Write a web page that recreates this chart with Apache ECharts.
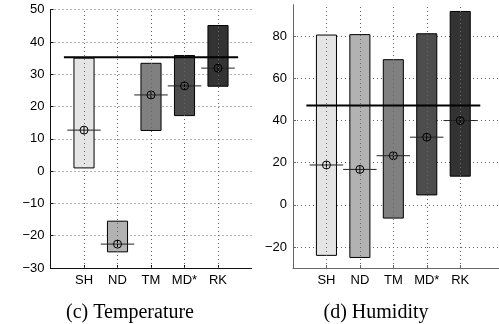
<!DOCTYPE html>
<html>
<head>
<meta charset="utf-8">
<script src="https://cdn.jsdelivr.net/npm/echarts@6/dist/echarts.min.js"></script>
<style>
  html, body {margin: 0; padding: 0; background: #fff;}
  #main {width: 499px; height: 324px;}
</style>
</head>
<body>
<div id="main"></div>
<script>
const categories = ['SH', 'ND', 'TM', 'MD*', 'RK'];
const catPos = [1, 2, 3, 4, 5];
const barColors = ['#e5e5e5', '#b2b2b2', '#808080', '#4d4d4d', '#333333'];

// (c) Temperature
const tempMin = [1, -25, 12.6, 17.2, 26.3];
const tempMax = [35, -15.5, 33.4, 35.8, 45.1];
const tempMean = [12.7, -22.6, 23.6, 26.4, 31.9];
const tempLimit = 35.3;

// (d) Humidity
const humMin = [-24, -25, -6.3, 4.7, 13.6];
const humMax = [80.6, 80.8, 68.9, 81.2, 91.8];
const humMean = [18.9, 16.8, 23.3, 32.1, 40];
const humLimit = 47.1;
const humTicks = [-20, 0, 20, 40, 60, 80];

const minus = v => String(v).replace('-', '\u2212');
const dots = {color: '#666', type: [1, 3], width: 1};
const tickFont = {fontFamily: 'Liberation Sans', fontSize: 13, color: '#000'};

function rangeData(lo, hi, mean) {
  return catPos.map((x, i) => [x, lo[i], hi[i], mean[i]]);
}

function renderRange(params, api) {
  const x = api.value(0), lo = api.value(1), hi = api.value(2), m = api.value(3);
  const a = api.coord([x - 0.3, hi]);
  const b = api.coord([x + 0.3, lo]);
  const l = api.coord([x - 0.5, m]);
  const r = api.coord([x + 0.5, m]);
  const c = api.coord([x, m]);
  return {
    type: 'group',
    children: [
      {type: 'rect', shape: {x: a[0], y: a[1], width: b[0] - a[0], height: b[1] - a[1]},
        style: {fill: barColors[params.dataIndex], stroke: '#000', lineWidth: 1}},
      {type: 'line', z2: 5, shape: {x1: l[0], y1: l[1], x2: r[0], y2: r[1]},
        style: {stroke: '#222', lineWidth: 1}},
      {type: 'circle', z2: 5, shape: {cx: c[0], cy: c[1], r: 4},
        style: {fill: 'none', stroke: '#000', lineWidth: 1}},
      {type: 'line', z2: 5, shape: {x1: c[0], y1: c[1] - 4, x2: c[0], y2: c[1] + 4},
        style: {stroke: '#000', lineWidth: 1}}
    ]
  };
}

function xAxis(idx, max, lineColor) {
  return {
    type: 'value', gridIndex: idx, min: 0, max: max,
    axisLine: {onZero: false, lineStyle: {color: lineColor, width: 1}},
    axisTick: {inside: true, length: 3, customValues: catPos, lineStyle: {color: lineColor}},
    axisLabel: Object.assign({customValues: catPos, margin: 6,
      formatter: v => categories[v - 1] || ''}, tickFont),
    splitLine: {show: false}
  };
}

// vertical dotted grid lines at each category
function catGrid(idx) {
  return {
    type: 'line', xAxisIndex: idx, yAxisIndex: idx, data: [], z: 1, silent: true,
    markLine: {symbol: 'none', silent: true, label: {show: false},
      lineStyle: dots, data: catPos.map(x => ({xAxis: x}))}
  };
}

const chart = echarts.init(document.getElementById('main'));
chart.setOption({
  animation: false,
  grid: [
    {left: 50.5, top: 9.7, width: 201, height: 258.3},
    {left: 293, top: 4.7, width: 206, height: 263.3}
  ],
  xAxis: [xAxis(0, 6, '#111'), xAxis(1, 6.16, '#666')],
  yAxis: [
    {type: 'value', gridIndex: 0, min: -30, max: 50, interval: 10,
      axisLine: {show: true, onZero: false, lineStyle: {color: '#111'}},
      axisTick: {show: true, inside: true, length: 3, lineStyle: {color: '#111'}},
      axisLabel: Object.assign({margin: 6, formatter: minus}, tickFont),
      splitLine: {show: true, lineStyle: dots}},
    {type: 'value', gridIndex: 1, min: -30, max: 95,
      axisLine: {show: true, onZero: false, lineStyle: {color: '#666'}},
      axisTick: {show: true, inside: true, length: 3, customValues: humTicks, lineStyle: {color: '#666'}},
      axisLabel: Object.assign({margin: 6, customValues: humTicks, formatter: minus}, tickFont),
      splitLine: {show: true, lineStyle: dots}}
  ],
  series: [
    catGrid(0),
    catGrid(1),
    {type: 'custom', xAxisIndex: 0, yAxisIndex: 0, renderItem: renderRange,
      encode: {x: 0, y: [1, 2]}, data: rangeData(tempMin, tempMax, tempMean), z: 2},
    {type: 'line', xAxisIndex: 0, yAxisIndex: 0, symbol: 'none', z: 3,
      lineStyle: {color: '#000', width: 2}, data: [[0.4, tempLimit], [5.6, tempLimit]]},
    {type: 'custom', xAxisIndex: 1, yAxisIndex: 1, renderItem: renderRange,
      encode: {x: 0, y: [1, 2]}, data: rangeData(humMin, humMax, humMean), z: 2},
    {type: 'line', xAxisIndex: 1, yAxisIndex: 1, symbol: 'none', z: 3,
      lineStyle: {color: '#000', width: 2}, data: [[0.4, humLimit], [5.6, humLimit]]}
  ],
  graphic: [
    {type: 'text', x: 130, y: 313, style: {text: '(c) Temperature', font: '20px "Liberation Serif"',
      fill: '#000', textAlign: 'center', textVerticalAlign: 'middle'}},
    {type: 'text', x: 376, y: 313, style: {text: '(d) Humidity', font: '20px "Liberation Serif"',
      fill: '#000', textAlign: 'center', textVerticalAlign: 'middle'}}
  ]
});
</script>
</body>
</html>
